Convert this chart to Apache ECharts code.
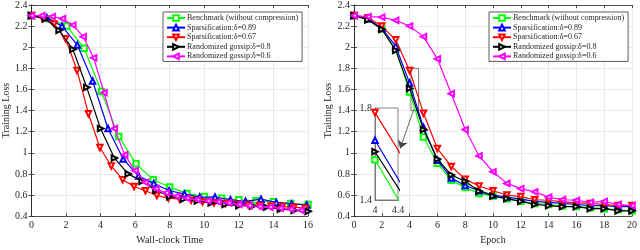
<!DOCTYPE html>
<html><head><meta charset="utf-8">
<script src="https://cdn.jsdelivr.net/npm/echarts@6/dist/echarts.min.js"></script>
<style>html,body{margin:0;padding:0;background:#fff}#c{width:640px;height:250px}</style>
</head><body><div id="c"></div>
<script>
var seriesNames = ['Benchmark (without compression)', 'Sparsification:\u03b4=0.89', 'Sparsification:\u03b4=0.67', 'Randomized gossip:\u03b4=0.8', 'Randomized gossip:\u03b4=0.6'];
var colors = ['#00ff00', '#0000ff', '#ff0000', '#000000', '#ff00ff'];
var symbols = ['emptyRect', 'emptyTriangle', 'emptyTriangle', 'emptyTriangle', 'emptyTriangle'];
var rotations = [0, 0, 180, -90, 90];

// Left: wall-clock time
var timeBench = [0,1.0,2.05,3.05,4.05,5.05,6.05,7.05,8.0,9.0,10.0,11.0,12.0,13.0,14.0,15.0,16.0];
var lossBenchT = [2.30,2.27,2.20,1.99,1.58,1.155,0.895,0.745,0.675,0.615,0.585,0.57,0.555,0.545,0.535,0.52,0.51];
var timeSp89 = [0,0.89,1.77,2.66,3.54,4.43,5.31,6.2,7.08,7.97,8.85,9.74,10.62,11.51,12.39,13.28,14.16,15.05,15.93];
var lossSp89T = [2.30,2.28,2.20,2.02,1.68,1.23,0.94,0.78,0.71,0.64,0.61,0.58,0.58,0.555,0.54,0.56,0.53,0.515,0.505];
var timeSp67 = [0,0.66,1.32,1.98,2.64,3.3,3.96,4.62,5.28,5.94,6.6,7.26,7.92,8.58,9.24,9.9,10.56,11.22,11.88,12.54,13.2,13.86,14.52,15.18,15.84];
var lossSp67T = [2.30,2.27,2.22,2.08,1.78,1.37,1.05,0.875,0.745,0.68,0.64,0.595,0.57,0.56,0.55,0.535,0.525,0.52,0.51,0.505,0.50,0.495,0.49,0.485,0.475];
var timeRg8 = [0,0.8,1.6,2.4,3.2,4.0,4.8,5.6,6.4,7.2,8.0,8.8,9.6,10.4,11.2,12.0,12.8,13.6,14.4,15.2,16.0];
var lossRg8T = [2.30,2.27,2.16,1.98,1.62,1.23,0.95,0.80,0.73,0.645,0.585,0.56,0.545,0.525,0.51,0.50,0.495,0.485,0.465,0.455,0.445];
var timeRg6 = [0,0.6,1.2,1.8,2.4,3.0,3.6,4.2,4.8,5.4,6.0,6.6,7.2,7.8,8.4,9.0,9.6,10.2,10.8,11.4,12.0,12.6,13.2,13.8,14.4,15.0,15.6];
var lossRg6T = [2.30,2.30,2.29,2.27,2.21,2.10,1.90,1.57,1.23,0.98,0.83,0.72,0.66,0.62,0.59,0.57,0.555,0.545,0.535,0.525,0.51,0.50,0.49,0.485,0.475,0.465,0.455];

// Right: epochs
var epochs = [0,1,2,3,4,5,6,7,8,9,10,11,12,13,14,15,16,17,18,19,20];
var lossBenchE = [2.30,2.27,2.17,1.98,1.575,1.15,0.90,0.74,0.67,0.615,0.59,0.565,0.54,0.52,0.51,0.495,0.49,0.48,0.47,0.46,0.45];
var lossSp89E = [2.30,2.27,2.18,2.01,1.66,1.24,0.93,0.76,0.69,0.64,0.60,0.58,0.56,0.54,0.53,0.52,0.51,0.50,0.50,0.49,0.49];
var lossSp67E = [2.30,2.28,2.20,2.07,1.78,1.375,1.04,0.87,0.75,0.685,0.64,0.60,0.585,0.555,0.55,0.535,0.525,0.52,0.51,0.50,0.50];
var lossRg8E = [2.30,2.26,2.17,1.97,1.61,1.22,0.94,0.79,0.73,0.635,0.59,0.565,0.54,0.51,0.50,0.49,0.49,0.47,0.47,0.45,0.45];
var lossRg6E = [2.30,2.29,2.285,2.255,2.20,2.10,1.89,1.56,1.22,0.97,0.82,0.71,0.66,0.63,0.58,0.555,0.55,0.53,0.54,0.51,0.50];

var leftTimes = [timeBench, timeSp89, timeSp67, timeRg8, timeRg6];
var leftLoss = [lossBenchT, lossSp89T, lossSp67T, lossRg8T, lossRg6T];
var rightLoss = [lossBenchE, lossSp89E, lossSp67E, lossRg8E, lossRg6E];

// zoom box and inset ranges
var zoomBoxX = [4.1, 4.65];
var zoomBoxY = [1.4, 1.8];
var arrowFrom = [4.3, 1.41];
var arrowTo = [3.32, 1.04];
var insetX = [4, 4.4];
var insetY = [1.4, 1.8];

var FONT = 'Liberation Serif';
var TXT = '#262626';

function pairs(xs, ys) { return xs.map(function (x, i) { return [x, ys[i]]; }); }

function mainX(gi, max, name, pos) {
  var bottom = pos === 'bottom';
  return {
    type: 'value', gridIndex: gi, position: pos, min: 0, max: max, interval: 2,
    name: bottom ? name : '', nameLocation: 'middle', nameGap: 15,
    nameTextStyle: { fontFamily: FONT, fontSize: 10, color: TXT },
    axisLine: { show: true, lineStyle: { color: TXT, width: 0.8 } },
    axisTick: { show: true, inside: true, length: 3, lineStyle: { color: TXT, width: 0.8 } },
    axisLabel: { show: bottom, margin: 4, fontFamily: FONT, fontSize: 10, color: TXT, showMinLabel: true, showMaxLabel: true },
    splitLine: { show: bottom, lineStyle: { color: '#e4e4e4', width: 0.8 } }
  };
}
function mainY(gi, pos) {
  var left = pos === 'left';
  return {
    type: 'value', gridIndex: gi, position: pos, min: 0.4, max: 2.4, interval: 0.2,
    name: left ? 'Training Loss' : '', nameLocation: 'middle', nameGap: 17,
    nameTextStyle: { fontFamily: FONT, fontSize: 10, color: TXT },
    axisLine: { show: true, lineStyle: { color: TXT, width: 0.8 } },
    axisTick: { show: true, inside: true, length: 3, lineStyle: { color: TXT, width: 0.8 } },
    axisLabel: { show: left, margin: 4, fontFamily: FONT, fontSize: 10, color: TXT },
    splitLine: { show: left, lineStyle: { color: '#e4e4e4', width: 0.8 } }
  };
}

var series = [];
for (var i = 0; i < 5; i++) {
  var base = {
    name: seriesNames[i], type: 'line', symbol: symbols[i], symbolRotate: rotations[i], symbolSize: 5.5,
    color: colors[i], lineStyle: { width: 1.2, color: colors[i] },
    itemStyle: { color: colors[i], borderWidth: 1.1 }, animation: false, z: 2 + i
  };
  series.push(Object.assign({}, base, { xAxisIndex: 0, yAxisIndex: 0, data: pairs(leftTimes[i], leftLoss[i]) }));
  var r = Object.assign({}, base, { xAxisIndex: 2, yAxisIndex: 2, data: pairs(epochs, rightLoss[i]) });
  if (i === 0) {
    r.markArea = { silent: true, itemStyle: { color: 'rgba(0,0,0,0)', borderColor: '#555', borderWidth: 0.8 },
      data: [[{ coord: [zoomBoxX[0], zoomBoxY[1]] }, { coord: [zoomBoxX[1], zoomBoxY[0]] }]] };
    r.markLine = { silent: true, symbol: ['none', 'arrow'], symbolSize: 8, label: { show: false },
      lineStyle: { color: '#444', width: 0.8, type: 'solid' },
      data: [[{ coord: arrowFrom }, { coord: arrowTo }]] };
  }
  series.push(r);
  if (i < 4) {
    series.push(Object.assign({}, base, { xAxisIndex: 4, yAxisIndex: 4, clip: true, z: 10 + i, data: pairs(epochs, rightLoss[i]) }));
  }
}

function legendAt(left) {
  return {
    data: seriesNames, left: left, top: 12, orient: 'vertical', itemGap: 1.6, itemWidth: 18, itemHeight: 7,
    padding: [2, 4, 1, 3], borderColor: '#333', borderWidth: 0.8, backgroundColor: '#fff',
    textStyle: { fontFamily: FONT, fontSize: 8, lineHeight: 8, color: TXT, padding: [0, 0, 0, -3] }, selectedMode: false
  };
}

var option = {
  animation: false,
  backgroundColor: '#fff',
  grid: [
    { left: 26, top: 4, width: 282, height: 220 },
    { left: 354, top: 4, width: 279, height: 220 },
    { left: 375, top: 108, width: 23, height: 92, show: true, backgroundColor: '#fff', borderColor: '#666', borderWidth: 0.8, z: 8 }
  ],
  legend: [legendAt(163), legendAt(489)],
  xAxis: [
    mainX(0, 16, 'Wall-clock Time', 'bottom'), mainX(0, 16, '', 'top'),
    mainX(1, 20, 'Epoch', 'bottom'), mainX(1, 20, '', 'top'),
    { type: 'value', gridIndex: 2, min: insetX[0], max: insetX[1], z: 9,
      axisLine: { show: true, lineStyle: { color: '#666', width: 0.8 } }, axisTick: { show: false }, splitLine: { show: false },
      axisLabel: { margin: 5, fontFamily: FONT, fontSize: 10, color: TXT, customValues: insetX, showMinLabel: true, showMaxLabel: true } }
  ],
  yAxis: [
    mainY(0, 'left'), mainY(0, 'right'), mainY(1, 'left'), mainY(1, 'right'),
    { type: 'value', gridIndex: 2, min: insetY[0], max: insetY[1], z: 9,
      axisLine: { show: true, lineStyle: { color: '#666', width: 0.8 } }, axisTick: { show: false }, splitLine: { show: false },
      axisLabel: { margin: 3, fontFamily: FONT, fontSize: 10, color: TXT, customValues: insetY, showMinLabel: true, showMaxLabel: true } }
  ],
  series: series
};
var chart = echarts.init(document.getElementById('c'), null, { renderer: 'canvas' });
chart.setOption(option);
</script></body></html>
